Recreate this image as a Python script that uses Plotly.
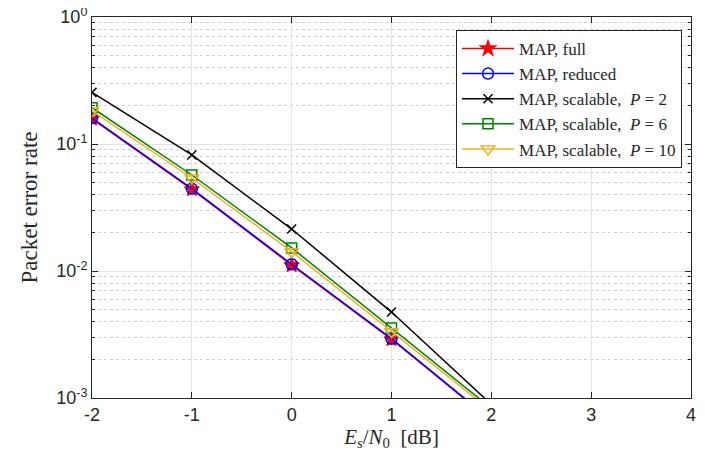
import plotly.graph_objects as go

snr_db = [-2, -1, 0, 1, 2]
per_full = [0.158, 0.0440, 0.0111, 0.00290, 0.00066]
per_reduced = [0.160, 0.0445, 0.0113, 0.00293, 0.00067]
per_p2 = [0.255, 0.082, 0.0214, 0.00475, 0.00089]
per_p6 = [0.193, 0.057, 0.0152, 0.00356, 0.00083]
per_p10 = [0.182, 0.054, 0.0142, 0.00333, 0.00079]

NB = "\u00a0"
series = [
    ("MAP, full", per_full, "red", "star", 11, 1.5),
    ("MAP, reduced", per_reduced, "blue", "circle-open", 11, 1.5),
    (f"MAP, scalable,{NB}{NB}<i>P</i>{NB}={NB}2", per_p2, "black", "x-thin-open", 9, 1.5),
    (f"MAP, scalable,{NB}{NB}<i>P</i>{NB}={NB}6", per_p6, "#008000", "square-open", 10, 1.5),
    (f"MAP, scalable,{NB}{NB}<i>P</i>{NB}={NB}10", per_p10, "#EDB120", "triangle-down-open", 12, 1.5),
]

fig = go.Figure()
for name, y, col, sym, size, w in series:
    fig.add_trace(go.Scatter(
        x=snr_db, y=y, name=name, mode="lines+markers",
        line=dict(color=col, width=w),
        marker=dict(symbol=sym, size=size, color=col, line=dict(color=col, width=1.5)),
    ))

major_vals = [1e-3, 1e-2, 1e-1, 1]
major_text = ["10<sup>-3</sup>", "10<sup>-2</sup>", "10<sup>-1</sup>", "10<sup>0</sup>"]
minor_vals = [m * 10.0 ** k for k in (-3, -2, -1) for m in range(2, 10)]

# page body has an 8px margin; figure sized to fit the window
fig.update_layout(
    width=703, height=448,
    margin=dict(l=84, r=20, t=9, b=58),
    paper_bgcolor="white", plot_bgcolor="white",
    showlegend=True,
    legend=dict(
        x=0.985, y=0.966, xanchor="right", yanchor="top",
        bgcolor="white", bordercolor="#262626", borderwidth=1,
        font=dict(family="Liberation Serif", size=17, color="#262626"),
        tracegroupgap=0, itemwidth=52,
    ),
    xaxis=dict(
        range=[-2, 4], tickvals=[-2, -1, 0, 1, 2, 3, 4],
        ticktext=["-2", "-1", "0", "1", "2", "3", "4"],
        ticks="inside", ticklen=6, tickcolor="#262626",
        showline=True, linecolor="#262626", linewidth=1, mirror="ticks",
        showgrid=True, gridcolor="#e3e3e3", gridwidth=1,
        zeroline=False, automargin=False, ticklabeloverflow="allow",
        tickfont=dict(family="Liberation Sans", size=18, color="#262626"),
        title=dict(text="<i>E<sub>s</sub></i>/<i>N</i><sub>0</sub>  [dB]",
                   font=dict(family="Liberation Serif", size=21, color="#262626"),
                   standoff=4),
    ),
    yaxis=dict(
        type="log", range=[-3, 0],
        tickvals=major_vals, ticktext=major_text,
        ticks="inside", ticklen=6, tickcolor="#262626",
        showline=True, linecolor="#262626", linewidth=1, mirror="ticks",
        showgrid=True, gridcolor="#e3e3e3", gridwidth=1,
        zeroline=False, automargin=False, ticklabeloverflow="allow",
        tickfont=dict(family="Liberation Sans", size=18, color="#262626"),
        minor=dict(tickvals=minor_vals, ticks="inside", ticklen=3, tickcolor="#262626",
                   showgrid=True, gridcolor="#d0d0d0", griddash="dot", gridwidth=1),
        title=dict(text="Packet error rate",
                   font=dict(family="Liberation Serif", size=23, color="#262626"),
                   standoff=12),
    ),
)

fig.write_html("out.html")
